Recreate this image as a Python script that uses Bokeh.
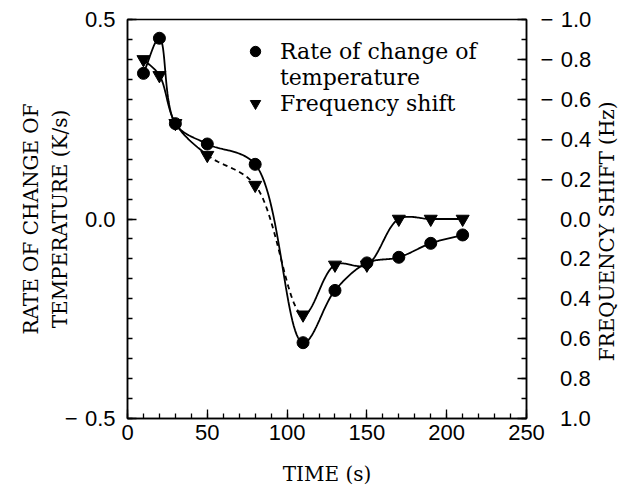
import numpy as np
from bokeh.plotting import figure
from bokeh.models import (Range1d, LinearAxis, FixedTicker, Legend, LegendItem,
                          CustomJSTickFormatter)
from bokeh.core.properties import value
from bokeh.embed import file_html
from bokeh.resources import INLINE

# ---- data ----
time_s = [10, 20, 30, 50, 80, 110, 130, 150, 170, 190, 210]
rate_k_per_s = [0.365, 0.453, 0.239, 0.188, 0.137, -0.31, -0.179, -0.11, -0.096, -0.061, -0.04]
freq_shift_hz = [-0.80, -0.72, -0.48, -0.32, -0.17, 0.48, 0.23, 0.23, 0.0, 0.0, 0.0]

x_ticks = [0, 50, 100, 150, 200, 250]
x_minor = list(range(0, 251, 10))
left_ticks = [-0.5, 0.0, 0.5]
left_minor = [round(v, 2) for v in np.arange(-0.5, 0.5001, 0.05)]
right_ticks = [-1.0, -0.8, -0.6, -0.4, -0.2, 0.0, 0.2, 0.4, 0.6, 0.8, 1.0]
right_minor = [round(v, 1) for v in np.arange(-1.0, 1.0001, 0.1)]

SERIF = "DejaVu Serif"
SANS = "Liberation Sans"

W, H = 634, 488
BL, BR, BT, BB = 127, 106, 19, 70
FW, FH = W - BL - BR, H - BT - BB


def spline(xs, ys, sx, sy, n=30):
    """Centripetal Catmull-Rom curve through the data points (computed in pixel space)."""
    pts = np.column_stack([np.asarray(xs, float) * sx, np.asarray(ys, float) * sy])
    P = np.vstack([2 * pts[0] - pts[1], pts, 2 * pts[-1] - pts[-2]])
    out = []
    for i in range(1, len(P) - 2):
        p0, p1, p2, p3 = P[i - 1], P[i], P[i + 1], P[i + 2]
        t0 = 0.0
        t1 = t0 + np.linalg.norm(p1 - p0) ** 0.5
        t2 = t1 + np.linalg.norm(p2 - p1) ** 0.5
        t3 = t2 + np.linalg.norm(p3 - p2) ** 0.5
        t = np.linspace(t1, t2, n, endpoint=False)[:, None]
        A1 = (t1 - t) / (t1 - t0) * p0 + (t - t0) / (t1 - t0) * p1
        A2 = (t2 - t) / (t2 - t1) * p1 + (t - t1) / (t2 - t1) * p2
        A3 = (t3 - t) / (t3 - t2) * p2 + (t - t2) / (t3 - t2) * p3
        B1 = (t2 - t) / (t2 - t0) * A1 + (t - t0) / (t2 - t0) * A2
        B2 = (t3 - t) / (t3 - t1) * A2 + (t - t1) / (t3 - t1) * A3
        C = (t2 - t) / (t2 - t1) * B1 + (t - t1) / (t2 - t1) * B2
        out.append(C)
    out.append(pts[-1:])
    a = np.vstack(out)
    return a[:, 0] / sx, a[:, 1] / sy, n


p = figure(width=W, height=H, x_range=Range1d(0, 250), y_range=Range1d(-0.5, 0.5),
           output_backend="svg", toolbar_location=None,
           min_border_left=BL, min_border_right=BR, min_border_top=BT, min_border_bottom=BB)
p.extra_y_ranges = {"freq": Range1d(1.0, -1.0)}
p.grid.visible = False
p.outline_line_color = "black"
p.outline_line_width = 1.5
p.background_fill_color = "white"
p.border_fill_color = "white"

sx = FW / 250.0
# ---- curves ----
cx, cy, n = spline(time_s, rate_k_per_s, sx, FH / 1.0)
p.line(cx, cy, line_color="black", line_width=1.8)

fx, fy, n = spline(time_s, freq_shift_hz, sx, FH / 2.0)
# segments: solid up to 50 s, dashed 50 -> 110 s, solid afterwards
i50, i110 = 3 * n, 5 * n
p.line(fx[:i50 + 1], fy[:i50 + 1], line_color="black", line_width=1.8, y_range_name="freq")
p.line(fx[i50:i110 + 1], fy[i50:i110 + 1], line_color="black", line_width=1.8,
       line_dash="5 4", y_range_name="freq")
p.line(fx[i110:], fy[i110:], line_color="black", line_width=1.8, y_range_name="freq")

c_r = p.scatter(time_s, rate_k_per_s, marker="circle", size=12, fill_color="black", line_color="black")
t_r = p.scatter(time_s, freq_shift_hz, marker="inverted_triangle", size=13, fill_color="black",
                line_color="black", y_range_name="freq")

# ---- axes ----
def style_axis(ax):
    ax.axis_line_color = "black"
    ax.axis_line_width = 1.5
    ax.major_tick_line_color = "black"
    ax.minor_tick_line_color = "black"
    ax.major_tick_line_width = 1.3
    ax.minor_tick_line_width = 1.3
    ax.major_tick_in = 9
    ax.major_tick_out = 0
    ax.minor_tick_in = 5
    ax.minor_tick_out = 0
    ax.major_label_text_font = SANS
    ax.major_label_text_font_size = "22px"
    ax.major_label_text_color = "black"
    ax.axis_label_text_font = SERIF
    ax.axis_label_text_font_size = "20px"
    ax.axis_label_text_font_style = "normal"
    ax.axis_label_text_color = "black"

xa = p.xaxis[0]
style_axis(xa)
xa.ticker = FixedTicker(ticks=x_ticks, minor_ticks=x_minor)
xa.axis_label = "TIME (s)"
xa.major_label_standoff = 6
xa.axis_label_standoff = 19

ya = p.yaxis[0]
style_axis(ya)
ya.ticker = FixedTicker(ticks=left_ticks, minor_ticks=left_minor)
ya.formatter = CustomJSTickFormatter(code="""
const s = Math.abs(tick).toFixed(1);
return tick < 0 ? "\u2212\u2004" + s : s;
""")
ya.axis_label = "RATE OF CHANGE OF\nTEMPERATURE (K/s)"
ya.major_label_standoff = 12
ya.axis_label_standoff = -10

ra = LinearAxis(y_range_name="freq")
style_axis(ra)
ra.ticker = FixedTicker(ticks=right_ticks, minor_ticks=right_minor)
ra.formatter = CustomJSTickFormatter(code="""
const s = Math.abs(tick).toFixed(1);
return (tick < 0 ? "\u2212\u2004" : "\u2007\u2004") + s;
""")
ra.major_label_standoff = 14
right_label = "FREQUENCY SHIFT (Hz)"
props = type(ra).properties()
if "axis_label_orientation" in props and "axis_label_align" in props:
    # label anchored at the bottom end of the axis, reading upwards; non-breaking
    # spaces lift its start to the position of the reference
    ra.axis_label = "\u00a0" * 9 + right_label
    ra.axis_label_align = "end"
    ra.axis_label_orientation = np.pi / 2
else:
    ra.axis_label = right_label
ra.axis_label_standoff = 13
p.add_layout(ra, "right")

# ---- legend ----
legend = Legend(items=[
    LegendItem(label=value("Rate of change of"), renderers=[c_r]),
    LegendItem(label=value("temperature"), renderers=[]),
    LegendItem(label=value("Frequency shift"), renderers=[t_r]),
], location=(113, 302))
legend.border_line_color = None
legend.background_fill_alpha = 0
legend.padding = 0
legend.margin = 0
legend.spacing = 0
legend.glyph_width = 30
legend.glyph_height = 26
legend.label_height = 26
legend.label_standoff = 10
legend.label_text_font = SERIF
legend.label_text_font_size = "22px"
legend.label_text_color = "black"
p.add_layout(legend)

open("out.html", "w").write(file_html(p, INLINE))
